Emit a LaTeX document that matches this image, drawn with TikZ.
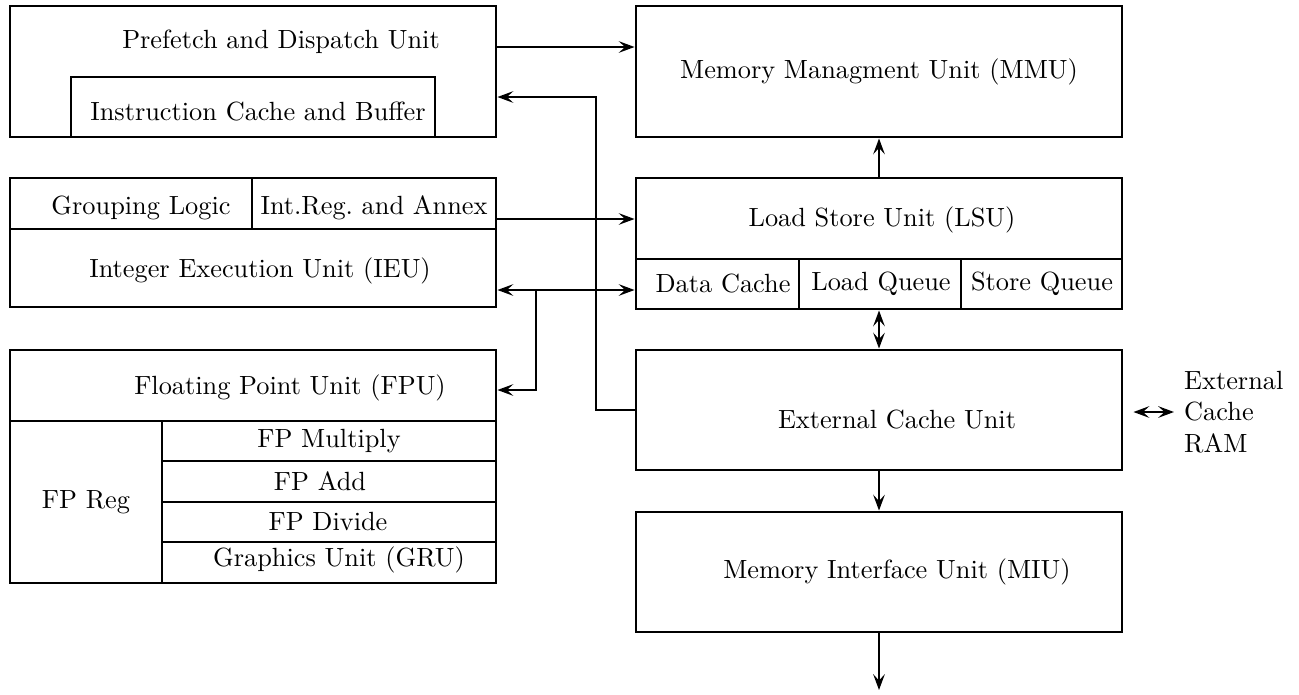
\documentclass[tikz,border=0pt]{standalone}
\usetikzlibrary{fit,arrows.meta}
\begin{document}
\begin{tikzpicture}[x=0.38pt, y=-0.38pt, line width=1.1pt,
    >={Stealth[length=6pt,width=4.4pt,inset=2.4pt]},
    box/.style={draw, inner sep=0pt}]
  \useasboundingbox (0,0) rectangle (1299,694);
  % left column
  \node (pdu) [box, fit={(10,6) (496,137)}] {};
  \node (icb) [box, fit={(71,77) (435,137)}] {};
  \node (ieu) [box, fit={(10,178) (496,307)}] {};
  \node (grp) [box, fit={(10,178) (252,229)}] {};
  \node (irg) [box, fit={(252,178) (496,229)}] {};
  \node (fpu) [box, fit={(10,350) (496,583)}] {};
  \node (fpreg) [box, fit={(10,421) (162,583)}] {};
  \node (fpmul) [box, fit={(162,421) (496,461)}] {};
  \node (fpadd) [box, fit={(162,461) (496,502)}] {};
  \node (fpdiv) [box, fit={(162,502) (496,542)}] {};
  \node (gru) [box, fit={(162,542) (496,583)}] {};
  \node (pdutxt) at (281,42) {Prefetch and Dispatch Unit};
  \node (icbtxt) at (258,112) {Instruction Cache and Buffer};
  \node (grptxt) at (141,208) {Grouping Logic};
  \node (irgtxt) at (374,208) {Int.Reg.\ and Annex};
  \node (ieutxt) at (260,271) {Integer Execution Unit (IEU)};
  \node (fputxt) at (290,388) {Floating Point Unit (FPU)};
  \node (fpregtxt) at (86,502) {FP Reg};
  \node (fpmultxt) at (329,441) {FP Multiply};
  \node (fpaddtxt) at (320,481) {FP Add};
  \node (fpdivtxt) at (328,521) {FP Divide};
  \node (grutxt) at (339,560) {Graphics Unit (GRU)};
  % right column
  \node (mmu) [box, fit={(636,6) (1122,137)}] {};
  \node (lsu) [box, fit={(636,178) (1122,309)}] {};
  \node (dc) [box, fit={(636,259) (799,309)}] {};
  \node (lq) [box, fit={(799,259) (961,309)}] {};
  \node (sq) [box, fit={(961,259) (1122,309)}] {};
  \node (ecu) [box, fit={(636,350) (1122,470)}] {};
  \node (miu) [box, fit={(636,512) (1122,632)}] {};
  \node (mmutxt) at (879,72) {Memory Managment Unit (MMU)};
  \node (lsutxt) at (882,220) {Load Store Unit (LSU)};
  \node (dctxt) at (723,284) {Data Cache};
  \node (lqtxt) at (881,284) {Load Queue};
  \node (sqtxt) at (1042,284) {Store Queue};
  \node (ecutxt) at (897,419) {External Cache Unit};
  \node (miutxt) at (897,572) {Memory Interface Unit (MIU)};
  \node (ram) [anchor=west, align=left] at (1174,412) {External\\Cache\\RAM};
  % buses
  \coordinate (busA) at (0,47);
  \coordinate (busB) at (596,97);
  \coordinate (busC) at (0,219);
  \coordinate (busD) at (536,290);
  \coordinate (busE) at (0,390);
  \coordinate (ramtip) at ([xshift=3.8pt]ecu.east);
  \coordinate (mem) at (879,690);
  \draw[->] (pdu.east |- busA) -- (mmu.west |- busA);
  \draw[->] (ecu.west) -| (busB) -- (pdu.east |- busB);
  \draw[->] (ieu.east |- busC) -- (lsu.west |- busC);
  \draw[<->] (ieu.east |- busD) -- (lsu.west |- busD);
  \draw[->] (busD) |- (fpu.east |- busE);
  \draw[->] (lsu.north) -- (mmu.south);
  \draw[<->] (lsu.south) -- (ecu.north);
  \draw[->] (ecu.south) -- (miu.north);
  \draw[->] (miu.south) -- (mem);
  \draw[<->] (ramtip |- ram.west) -- (ram.west);
\end{tikzpicture}
\end{document}
